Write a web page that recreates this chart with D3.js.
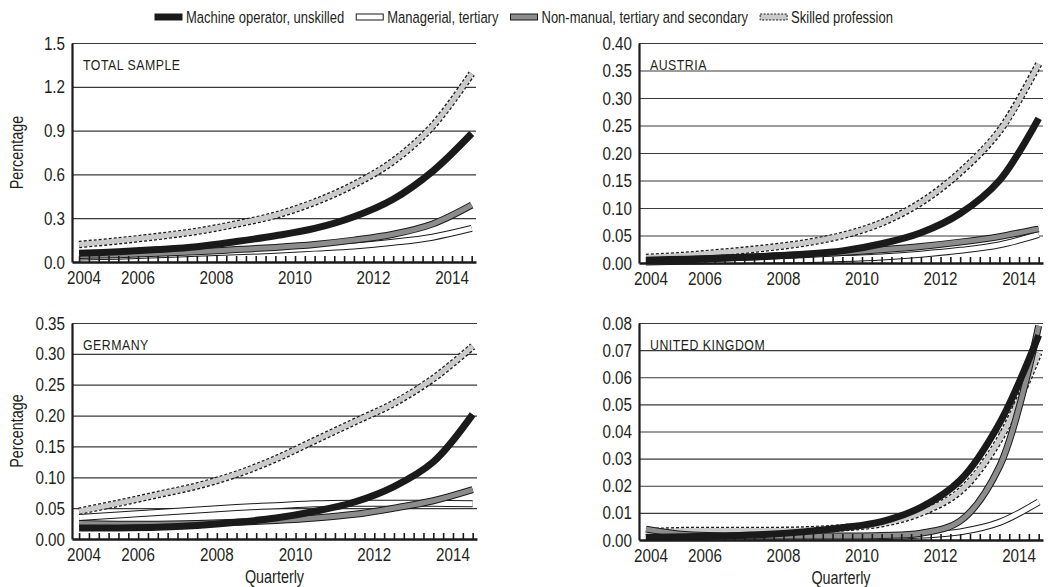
<!DOCTYPE html>
<html>
<head>
<meta charset="utf-8">
<script src="https://cdn.jsdelivr.net/npm/d3@7"></script>
<style>
  body { margin: 0; background: #fff; }
  svg text { font-family: "Liberation Sans", Arial, sans-serif; fill: #231f20; }
</style>
</head>
<body>
<div id="chart"></div>
<script>
// time points (mid-year of each year, fractional years)
var years = [2004.5, 2005.5, 2006.5, 2007.5, 2008.5, 2009.5, 2010.5, 2011.5, 2012.5, 2013.5, 2014.5];
var yearLabels = [2004, 2006, 2008, 2010, 2012, 2014];

var seriesNames = ["Machine operator, unskilled", "Managerial, tertiary", "Non-manual, tertiary and secondary", "Skilled profession"];

// Total sample
var totalMachine    = [0.06, 0.07, 0.085, 0.105, 0.14, 0.18, 0.23, 0.31, 0.43, 0.62, 0.88];
var totalManagerial = [0.035, 0.04, 0.05, 0.06, 0.07, 0.08, 0.095, 0.11, 0.135, 0.17, 0.23];
var totalNonManual  = [0.045, 0.05, 0.06, 0.07, 0.085, 0.10, 0.12, 0.15, 0.19, 0.26, 0.39];
var totalSkilled    = [0.12, 0.145, 0.175, 0.21, 0.26, 0.32, 0.41, 0.53, 0.69, 0.93, 1.29];

// Austria
var atMachine    = [0.005, 0.007, 0.009, 0.012, 0.016, 0.022, 0.035, 0.055, 0.09, 0.15, 0.263];
var atManagerial = [0.002, 0.003, 0.004, 0.005, 0.006, 0.008, 0.011, 0.016, 0.023, 0.033, 0.052];
var atNonManual  = [0.004, 0.006, 0.009, 0.012, 0.015, 0.019, 0.024, 0.030, 0.038, 0.048, 0.062];
var atSkilled    = [0.010, 0.014, 0.020, 0.027, 0.036, 0.050, 0.073, 0.11, 0.165, 0.24, 0.362];

// Germany
var deMachine    = [0.018, 0.018, 0.019, 0.022, 0.027, 0.034, 0.045, 0.060, 0.085, 0.125, 0.202];
var deManagerial = [0.035, 0.039, 0.043, 0.047, 0.051, 0.054, 0.057, 0.058, 0.058, 0.058, 0.057];
var deNonManual  = [0.025, 0.024, 0.024, 0.025, 0.027, 0.030, 0.034, 0.040, 0.050, 0.062, 0.080];
var deSkilled    = [0.045, 0.058, 0.072, 0.086, 0.105, 0.13, 0.16, 0.19, 0.22, 0.26, 0.312];

// United Kingdom
var ukMachine    = [0.001, 0.0012, 0.0015, 0.002, 0.003, 0.0045, 0.0068, 0.012, 0.022, 0.043, 0.0755];
var ukManagerial = [0.003, 0.0015, 0.001, 0.001, 0.001, 0.001, 0.0012, 0.0018, 0.003, 0.0065, 0.014];
var ukNonManual  = [0.004, 0.002, 0.0015, 0.0015, 0.0015, 0.0015, 0.0017, 0.0025, 0.007, 0.027, 0.079];
var ukSkilled    = [0.003, 0.0035, 0.0035, 0.0035, 0.0037, 0.0045, 0.006, 0.010, 0.018, 0.037, 0.069];

var svgWidth = 1049;
var svgHeight = 587;
var narrow = 0.8;   // horizontal squeeze to mimic the condensed typeface

var svg = d3.select("#chart")
  .append("svg")
  .attr("width", svgWidth)
  .attr("height", svgHeight);

// squeeze text horizontally, keeping its anchor point where it was
function squeeze(sel, sx) {
  sel.each(function() {
    var t = d3.select(this);
    var x = +t.attr("x") || 0;
    t.attr("x", x / sx);
    var tr = t.attr("transform") || "";
    t.attr("transform", `${tr} scale(${sx},1)`);
  });
}

// panel layout
var panels = [
  { title: "TOTAL SAMPLE", left: 72, top: 43, width: 404, height: 219, yMax: 1.5, yStep: 0.3, fmt: ".1f", ylab: true, xlab: false,
    data: [totalMachine, totalManagerial, totalNonManual, totalSkilled] },
  { title: "AUSTRIA", left: 639, top: 43, width: 404, height: 220, yMax: 0.40, yStep: 0.05, fmt: ".2f", ylab: false, xlab: false,
    data: [atMachine, atManagerial, atNonManual, atSkilled] },
  { title: "GERMANY", left: 72, top: 323, width: 405, height: 216, yMax: 0.35, yStep: 0.05, fmt: ".2f", ylab: true, xlab: true,
    data: [deMachine, deManagerial, deNonManual, deSkilled] },
  { title: "UNITED KINGDOM", left: 639, top: 323, width: 404, height: 217, yMax: 0.08, yStep: 0.01, fmt: ".2f", ylab: false, xlab: true,
    data: [ukMachine, ukManagerial, ukNonManual, ukSkilled] }
];

// line styles, one per series (outer stroke + optional inner stroke)
var styles = [
  { outer: "#1a1a1a", outerW: 7, inner: null },
  { outer: "#1a1a1a", outerW: 7, inner: "#ffffff", innerW: 5 },
  { outer: "#1a1a1a", outerW: 7, inner: "#8c8c8c", innerW: 5 },
  { outer: "#1a1a1a", outerW: 7.5, dash: "3,2", inner: "#cacaca", innerW: 5 }
];
var drawOrder = [3, 1, 2, 0];

panels.forEach(function(p) {
  var g = svg.append("g").attr("transform", `translate(${p.left}, ${p.top})`);

  var x = d3.scaleLinear().domain([2004.32, 2014.61]).range([0, p.width]);
  var y = d3.scaleLinear().domain([0, p.yMax]).range([p.height, 0]);

  var yTicks = d3.range(0, p.yMax + p.yStep / 2, p.yStep);

  // gridlines
  g.append("g")
    .call(d3.axisLeft(y).tickValues(yTicks.slice(1)).tickSize(-p.width).tickFormat(""))
    .call(s => s.select(".domain").remove())
    .selectAll("line")
    .attr("stroke", "#3a3a3a")
    .attr("stroke-width", 1.2);

  // y axis
  var yAxis = g.append("g")
    .call(d3.axisLeft(y).tickValues(yTicks).tickSize(0).tickPadding(7).tickFormat(d3.format(p.fmt)));
  yAxis.select(".domain").attr("stroke", "#1a1a1a").attr("stroke-width", 2.2);
  yAxis.selectAll("text")
    .attr("font-size", "19px")
    .attr("font-family", null)
    .attr("fill", null)
    .call(squeeze, narrow);

  // lines
  var line = d3.line()
    .x((d, i) => x(years[i]))
    .y(d => y(d))
    .curve(d3.curveCatmullRom.alpha(0.5));

  drawOrder.forEach(function(si) {
    var st = styles[si];
    var vals = p.data[si];
    g.append("path")
      .datum(vals)
      .attr("d", line)
      .attr("fill", "none")
      .attr("stroke", st.outer)
      .attr("stroke-width", st.outerW)
      .attr("stroke-dasharray", st.dash || null);
    if (st.inner) {
      g.append("path")
        .datum(vals)
        .attr("d", line)
        .attr("fill", "none")
        .attr("stroke", st.inner)
        .attr("stroke-width", st.innerW);
    }
  });

  // x axis with quarterly ticks pointing up
  var quarters = d3.range(2004.5, 2014.61, 0.25);
  var xAxis = g.append("g")
    .attr("transform", `translate(0, ${p.height})`)
    .call(d3.axisBottom(x).tickValues(quarters).tickSize(-6).tickSizeOuter(0).tickFormat(""));
  xAxis.select(".domain").attr("stroke", "#1a1a1a").attr("stroke-width", 2.5);
  xAxis.selectAll(".tick line").attr("stroke", "#1a1a1a").attr("stroke-width", 1.6);

  // year labels (2004 nudged inside the axis)
  g.selectAll(".yearLabel")
    .data(yearLabels)
    .enter()
    .append("text")
    .attr("class", "yearLabel")
    .attr("x", d => Math.max(x(d), 12))
    .attr("y", p.height + 22)
    .attr("text-anchor", "middle")
    .attr("font-size", "19px")
    .text(d => d)
    .call(squeeze, narrow);

  // panel title
  g.append("text")
    .attr("x", 11)
    .attr("y", 27)
    .attr("font-size", "14.5px")
    .attr("letter-spacing", "0.6px")
    .attr("fill", "#333")
    .text(p.title)
    .call(squeeze, 0.85);

  if (p.ylab) {
    g.append("text")
      .attr("transform", `translate(-49, ${p.height / 2}) rotate(-90)`)
      .attr("text-anchor", "middle")
      .attr("font-size", "18px")
      .text("Percentage")
      .call(squeeze, narrow);
  }
  if (p.xlab) {
    g.append("text")
      .attr("x", p.width / 2)
      .attr("y", p.height + 44)
      .attr("text-anchor", "middle")
      .attr("font-size", "18px")
      .text("Quarterly")
      .call(squeeze, narrow);
  }
});

// legend, squeezed to run from x=155 to x=893 (centred over the page)
var legendLeft = 155, legendRight = 893, swatchW = 27, swatchGap = 4, itemGap = 12;
var legend = svg.append("g").attr("transform", `translate(${legendLeft}, 17)`);
var legendTexts = seriesNames.map(function(name) {
  return legend.append("text").attr("y", 6).attr("font-size", "17px").text(name);
});
var naturalW = d3.sum(legendTexts, t => t.node().getComputedTextLength());
var fixedW = seriesNames.length * (swatchW + swatchGap) + (seriesNames.length - 1) * itemGap;
var legendScale = (legendRight - legendLeft - fixedW) / naturalW;

var cursor = 0;
seriesNames.forEach(function(name, i) {
  var st = styles[i];
  legend.append("rect")
    .attr("x", cursor)
    .attr("y", -3)
    .attr("width", swatchW)
    .attr("height", 6)
    .attr("fill", st.inner || st.outer)
    .attr("stroke", "#1a1a1a")
    .attr("stroke-width", 1)
    .attr("stroke-dasharray", st.dash ? "2,1.5" : null);
  var t = legendTexts[i];
  var w = t.node().getComputedTextLength() * legendScale;
  t.attr("x", cursor + swatchW + swatchGap).call(squeeze, legendScale);
  cursor += swatchW + swatchGap + w + itemGap;
});
</script>
</body>
</html>
